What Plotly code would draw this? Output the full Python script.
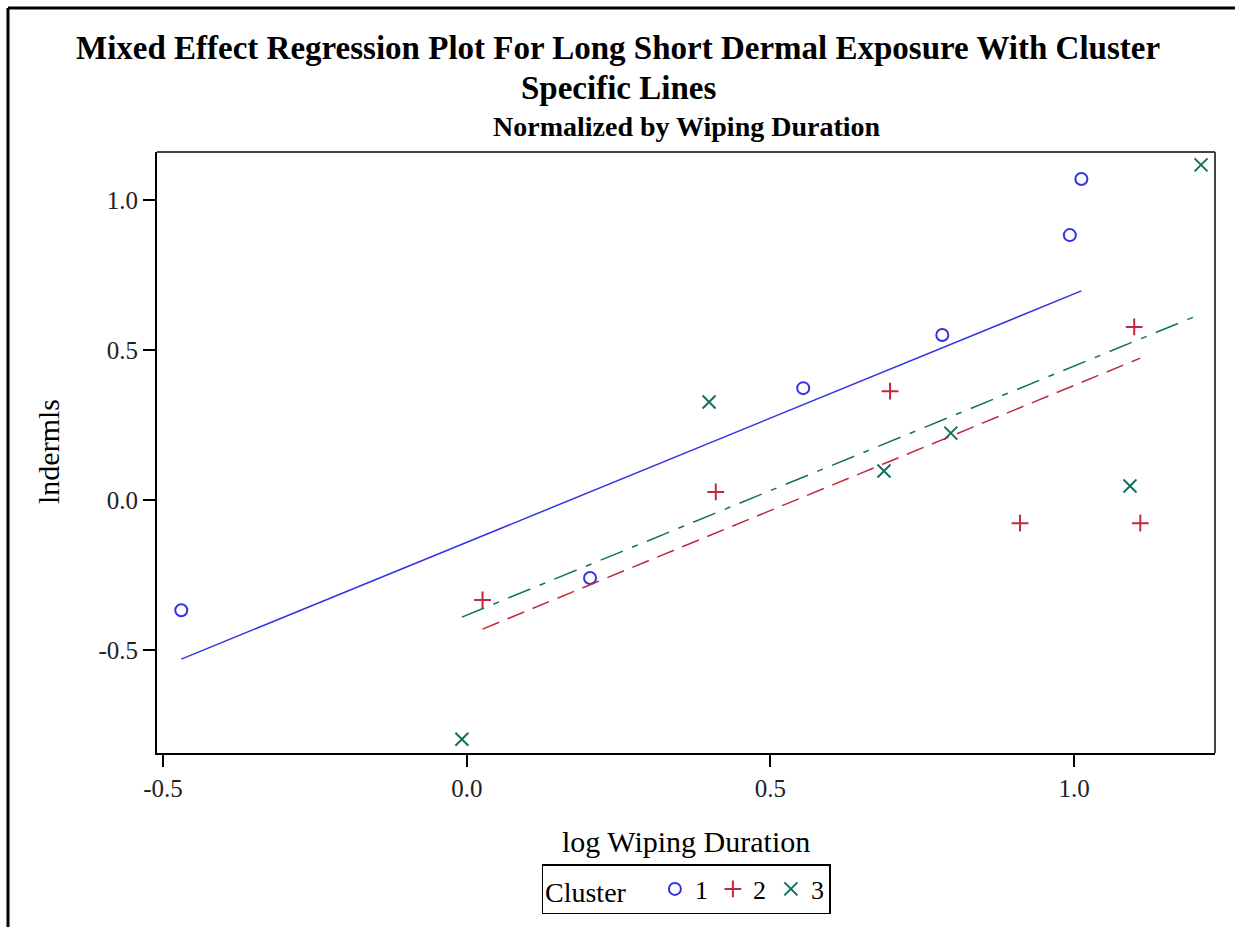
import plotly.graph_objects as go

# observed points per cluster (log wiping duration, lndermls)
c1_x = [-0.470, 0.203, 0.554, 0.783, 0.993, 1.012]
c1_y = [-0.367, -0.260, 0.373, 0.550, 0.883, 1.070]
c2_x = [0.026, 0.410, 0.697, 0.911, 1.099, 1.109]
c2_y = [-0.333, 0.027, 0.363, -0.077, 0.577, -0.077]
c3_x = [-0.008, 0.399, 0.687, 0.797, 1.092, 1.209]
c3_y = [-0.797, 0.327, 0.097, 0.223, 0.047, 1.117]

# cluster specific fitted lines (end points)
fit1_x = [-0.470, 1.012]
fit1_y = [-0.530, 0.697]
fit2_x = [0.026, 1.109]
fit2_y = [-0.430, 0.473]
fit3_x = [-0.008, 1.209]
fit3_y = [-0.390, 0.620]

blue = "#3333e6"
red = "#c0283c"
teal = "#13705f"
font = "Liberation Serif"

fig = go.Figure()

fig.add_trace(go.Scatter(x=c1_x, y=c1_y, mode="markers", name="1",
                         marker=dict(symbol="circle-open", size=12, color=blue, line=dict(width=2))))
fig.add_trace(go.Scatter(x=c2_x, y=c2_y, mode="markers", name="2",
                         marker=dict(symbol="cross-thin-open", size=12, color=red, line=dict(width=2, color=red))))
fig.add_trace(go.Scatter(x=c3_x, y=c3_y, mode="markers", name="3",
                         marker=dict(symbol="x-thin-open", size=13, color=teal, line=dict(width=2, color=teal))))

fig.add_trace(go.Scatter(x=fit1_x, y=fit1_y, mode="lines", showlegend=False,
                         line=dict(color=blue, width=1.5)))
fig.add_trace(go.Scatter(x=fit2_x, y=fit2_y, mode="lines", showlegend=False,
                         line=dict(color=red, width=1.5, dash="18px,9px")))
fig.add_trace(go.Scatter(x=fit3_x, y=fit3_y, mode="lines", showlegend=False,
                         line=dict(color=teal, width=1.5, dash="24px,10px,6px,10px")))

W, H = 1235, 927
L, R, T, B = 157, 20, 152, 174
pw, ph = W - L - R, H - T - B


def px(x):
    return (x - L) / pw


def py(y):
    return (H - B - y) / ph


fig.update_layout(
    width=W, height=H,
    margin=dict(l=L, r=R, t=T, b=B),
    paper_bgcolor="white", plot_bgcolor="white",
    font=dict(family=font, color="#222222", size=25),
    showlegend=True,
    legend=dict(
        title=dict(text="Cluster   ", font=dict(size=28, color="black")),
        orientation="h", x=0.5, xanchor="center", y=py(889), yanchor="middle",
        bordercolor="black", borderwidth=1.5, font=dict(size=26, color="black"),
        itemwidth=30, tracegroupgap=0,
    ),
    xaxis=dict(
        range=[-0.510, 1.232], tickvals=[-0.5, 0.0, 0.5, 1.0],
        ticktext=["-0.5", "0.0", "0.5", "1.0"],
        ticks="outside", ticklen=12, tickwidth=2, tickcolor="black",
        showgrid=False, zeroline=False,
        showline=True, linecolor="black", linewidth=2, mirror=False,
    ),
    yaxis=dict(
        range=[-0.843, 1.160], tickvals=[-0.5, 0.0, 0.5, 1.0],
        ticktext=["-0.5", "0.0", "0.5", "1.0"],
        ticks="outside", ticklen=12, tickwidth=2, tickcolor="black",
        showgrid=False, zeroline=False,
        showline=True, linecolor="black", linewidth=2, mirror=False,
    ),
)

# plot frame top / right in dark grey
fig.add_shape(type="line", xref="paper", yref="paper", x0=0, x1=1, y0=1, y1=1,
              line=dict(color="#444444", width=2))
fig.add_shape(type="line", xref="paper", yref="paper", x0=1, x1=1, y0=0, y1=1,
              line=dict(color="#444444", width=2))

# outer page border (left and top)
fig.add_shape(type="line", xref="paper", yref="paper", x0=px(8), x1=px(8), y0=py(927), y1=py(8),
              line=dict(color="black", width=3))
fig.add_shape(type="line", xref="paper", yref="paper", x0=px(8), x1=px(1236), y0=py(8), y1=py(8),
              line=dict(color="black", width=3))

fig.add_annotation(text="<b>Mixed Effect Regression Plot For Long Short Dermal Exposure With Cluster</b>",
                   xref="paper", yref="paper", x=px(618), y=py(48), showarrow=False,
                   xanchor="center", yanchor="middle", font=dict(size=33, color="black"))
fig.add_annotation(text="<b>Specific Lines</b>",
                   xref="paper", yref="paper", x=px(618), y=py(88), showarrow=False,
                   xanchor="center", yanchor="middle", font=dict(size=33, color="black"))
fig.add_annotation(text="<b>Normalized by Wiping Duration</b>",
                   xref="paper", yref="paper", x=px(687), y=py(126), showarrow=False,
                   xanchor="center", yanchor="middle", font=dict(size=28, color="black"))

# axis titles
fig.add_annotation(text="log Wiping Duration",
                   xref="paper", yref="paper", x=px(686), y=py(841), showarrow=False,
                   xanchor="center", yanchor="middle", font=dict(size=30, color="black"))
fig.add_annotation(text="lndermls", textangle=-90,
                   xref="paper", yref="paper", x=px(48), y=py(452), showarrow=False,
                   xanchor="center", yanchor="middle", font=dict(size=30, color="black"))

fig.write_html("out.html", config={"displayModeBar": False},
               post_script="document.body.style.margin='0';")
